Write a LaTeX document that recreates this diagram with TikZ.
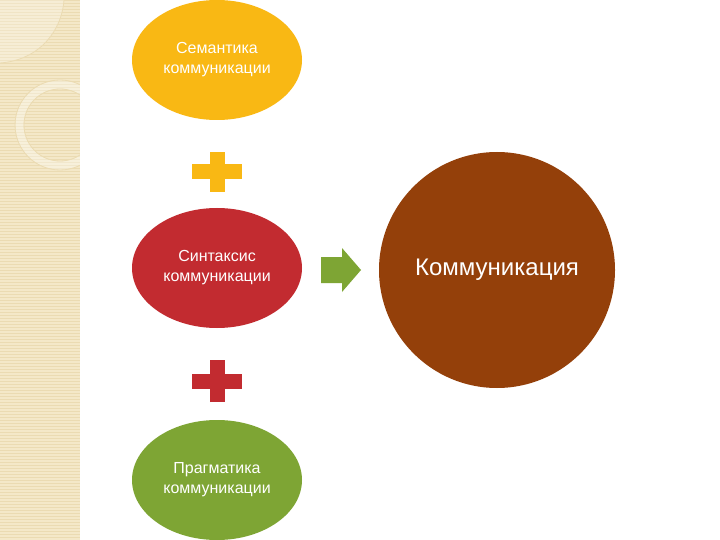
\documentclass[tikz,border=0pt]{standalone}
\usepackage{fontspec}
\setmainfont{Liberation Sans}
\usetikzlibrary{shapes.geometric}
\begin{document}
\begin{tikzpicture}[x=1pt,y=-1pt,
  ell/.style={ellipse,minimum width=170pt,minimum height=120pt,inner sep=0pt,text=white,font=\fontsize{16}{20}\selectfont,align=center},
  plusbar/.style={line width=15pt},
]
\useasboundingbox (0,0) rectangle (720,540);
\fill[white] (0,0) rectangle (720,540);
\definecolor{cyel}{HTML}{F9B814}
\definecolor{cred}{HTML}{C22B30}
\definecolor{cgrn}{HTML}{7EA534}
\definecolor{cbrn}{HTML}{94400A}
\definecolor{cbeige}{HTML}{F4E8C8}
\definecolor{cbeiged}{HTML}{EBDBB2}
% left decorative strip
\begin{scope}
\clip (0,0) rectangle (80,540);
\fill[cbeige] (0,0) rectangle (80,540);
\foreach \yy in {0,3,...,540} \draw[cbeiged,line width=0.6pt] (0,\yy) -- (80,\yy);
\fill[white,opacity=0.25] (0,63) .. controls (40,60) and (62,30) .. (64,0) -- (0,0) -- cycle;
\draw[cbeiged,line width=0.8pt] (0,63) .. controls (40,60) and (62,30) .. (64,0);
\draw[white,opacity=0.35,line width=8pt] (60,125) circle[radius=40.5];
\draw[cbeiged,line width=0.8pt] (60,125) circle[radius=45];
\draw[cbeiged,line width=0.8pt] (60,125) circle[radius=36];
\end{scope}
\draw[white,line width=1pt] (80.5,0) -- (80.5,540);
% ellipses
\node[ell,fill=cyel] (sem) at (217,60) {Семантика\\коммуникации};
\node[ell,fill=cred] (syn) at (217,268) {Синтаксис\\коммуникации};
\node[ell,fill=cgrn] (prag) at (217,480) {Прагматика\\коммуникации};
% plus signs
\coordinate (p1) at (217,172);
\coordinate (p2) at (217,381);
\draw[plusbar,cyel] ([xshift=-25pt]p1) -- ([xshift=25pt]p1);
\draw[plusbar,cyel] ([yshift=-20pt]p1) -- ([yshift=20pt]p1);
\draw[plusbar,cred] ([xshift=-25pt]p2) -- ([xshift=25pt]p2);
\draw[plusbar,cred] ([yshift=-21pt]p2) -- ([yshift=21pt]p2);
% big circle
\node[circle,fill=cbrn,minimum size=236pt,inner sep=0pt,text=white,font=\fontsize{24}{28}\selectfont] (com) at (497,270) {Коммуникация};
% arrow
\coordinate (a0) at (321,270);
\fill[cgrn] (a0) ++(0,-13) -- ++(21,0) -- ++(0,-9) -- ++(19,22) -- ++(-19,22) -- ++(0,-9) -- ++(-21,0) -- cycle;
\end{tikzpicture}
\end{document}
